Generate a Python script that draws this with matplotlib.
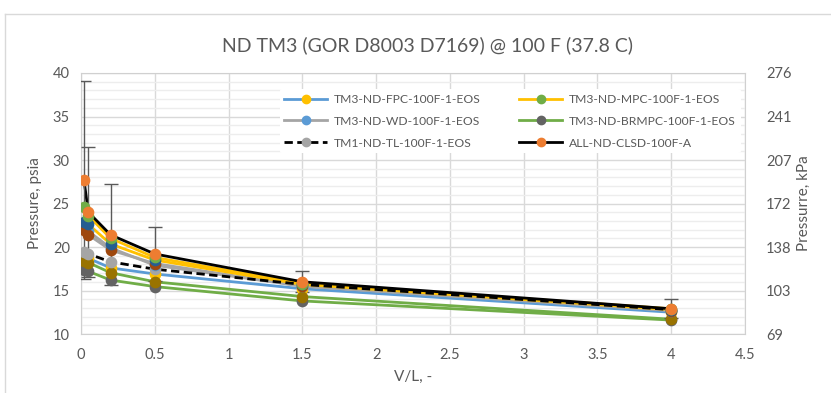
import matplotlib
matplotlib.use("Agg")
import matplotlib.pyplot as plt
from matplotlib.lines import Line2D

plt.rcParams["font.family"] = ["Lato", "DejaVu Sans"]

# Vapour/liquid ratio
vl = [0.02, 0.05, 0.2, 0.5, 1.5, 4.0]

# Pressures, psia
clsd = [27.7, 24.0, 21.4, 19.2, 16.0, 12.9]
clsd_err = [11.4, 7.5, 5.8, 3.1, 1.2, 1.1]
mpc = [24.6, 23.6, 21.0, 18.8, 15.8, 12.9]
mpc_2 = [22.9, 22.6, 20.35, 18.5, 15.7, 12.8]
wd = [22.2, 21.8, 19.9, 17.9, 15.5, 12.7]
wd_2 = [21.9, 21.4, 19.65, 18.1, 15.5, 12.7]
tl = [19.4, 19.2, 18.3, 17.45, 15.7, 12.8]
fpc = [18.9, 18.7, 17.6, 16.9, 15.2, 12.5]
brmpc_2 = [18.4, 18.2, 17.05, 16.0, 14.3, 11.7]
brmpc = [17.4, 17.2, 16.2, 15.45, 13.8, 11.6]

labels = {
    "fpc": "TM3-ND-FPC-100F-1-EOS",
    "mpc": "TM3-ND-MPC-100F-1-EOS",
    "wd": "TM3-ND-WD-100F-1-EOS",
    "brmpc": "TM3-ND-BRMPC-100F-1-EOS",
    "tl": "TM1-ND-TL-100F-1-EOS",
    "clsd": "ALL-ND-CLSD-100F-A",
}

PSI_TO_KPA = 6.894757

BLUE = "#5B9BD5"
ORANGE = "#ED7D31"
GRAY = "#A5A5A5"
GOLD = "#FFC000"
GREEN = "#70AD47"
DKBLUE = "#255E91"
BROWN = "#9E480E"
DKGRAY = "#636363"
OLIVE = "#997300"
TXT = "#595959"

# (values, line colour, line style, marker colour, legend key)
series = [
    (brmpc, GREEN, "-", DKGRAY, "brmpc"),
    (brmpc_2, GREEN, "-", OLIVE, None),
    (fpc, BLUE, "-", GOLD, "fpc"),
    (wd, GRAY, "-", BLUE, "wd"),
    (wd_2, GRAY, "-", BROWN, None),
    (mpc_2, GOLD, "-", DKBLUE, None),
    (mpc, GOLD, "-", GREEN, "mpc"),
    (tl, "black", (0, (3, 1.6)), GRAY, "tl"),
    (clsd, "black", "-", ORANGE, "clsd"),
]
marker_order = [2, 0, 1, 7, 3, 4, 5, 6, 8]

fig = plt.figure(figsize=(8.31, 3.93), dpi=100)
ax = fig.add_axes([81 / 831, 1 - 334 / 393, 664 / 831, 261 / 393])

# chart-area border
fig.add_artist(Line2D([5 / 831, 1.0], [1 - 14 / 393] * 2, color="#D9D9D9", lw=1,
                      transform=fig.transFigure))
fig.add_artist(Line2D([5 / 831] * 2, [0, 1 - 14 / 393], color="#D9D9D9", lw=1,
                      transform=fig.transFigure))

handles = {}
for vals, lc, ls, mc, key in series:
    ax.plot(vl, vals, color=lc, ls=ls, lw=2.0, zorder=3)
    if key:
        handles[key] = Line2D([], [], color=lc, ls=ls, lw=2.0, marker="o",
                              markersize=6, markerfacecolor=mc, markeredgecolor=mc)

ax.errorbar(vl, clsd, yerr=clsd_err, fmt="none", ecolor=TXT, elinewidth=1.0,
            capsize=5, capthick=1.0, zorder=4)

for i in marker_order:
    vals, lc, ls, mc, key = series[i]
    ax.plot(vl, vals, ls="none", marker="o", markersize=7.4, markerfacecolor=mc,
            markeredgecolor=mc, zorder=5)

ax.set_xlim(0, 4.5)
ax.set_ylim(10, 40)
ax.set_xticks([0, 0.5, 1, 1.5, 2, 2.5, 3, 3.5, 4, 4.5])
ax.set_xticklabels(["0", "0.5", "1", "1.5", "2", "2.5", "3", "3.5", "4", "4.5"])
ax.set_yticks(range(10, 41, 5))
ax.set_yticks(range(10, 41, 1), minor=True)
ax.grid(True, which="major", color="#D9D9D9", lw=1.0, zorder=0)
ax.grid(True, which="minor", axis="y", color="#EDEDED", lw=1.0, zorder=0)
ax.set_axisbelow(True)
for sp in ax.spines.values():
    sp.set_color("#D0D0D0")
ax.tick_params(which="both", length=0, colors=TXT, labelsize=10.5)
ax.tick_params(axis="x", pad=10)
ax.tick_params(axis="y", pad=8)

ax2 = ax.twinx()
ax2.set_ylim(10 * PSI_TO_KPA, 40 * PSI_TO_KPA)
kpa_ticks = [p * PSI_TO_KPA for p in range(10, 41, 5)]
ax2.set_yticks(kpa_ticks)
ax2.set_yticklabels([f"{t:.0f}" for t in kpa_ticks])
ax2.tick_params(length=0, colors=TXT, labelsize=10.5, pad=15)
for sp in ax2.spines.values():
    sp.set_visible(False)

ax.set_xlabel("V/L, -", color=TXT, fontsize=11, labelpad=6)
ax.set_ylabel("Pressure, psia", color=TXT, fontsize=11, labelpad=8)
ax2.set_ylabel("Pressurre, kPa", color=TXT, fontsize=11, labelpad=4)

fig.text(428 / 831, 1 - 45 / 393, "ND TM3 (GOR D8003 D7169) @ 100 F (37.8 C)",
         ha="center", va="center", color=TXT, fontsize=14)

order = ["fpc", "wd", "tl", "mpc", "brmpc", "clsd"]
leg = ax.legend([handles[k] for k in order], [labels[k] for k in order], ncol=2,
                loc="upper left", bbox_to_anchor=(0.29, 0.962), fontsize=8.7,
                frameon=True, facecolor="white", edgecolor="none", framealpha=1,
                handlelength=3.5, handletextpad=0.6, columnspacing=3.2,
                labelspacing=0.9, borderpad=0.4)
for t in leg.get_texts():
    t.set_color(TXT)
leg.set_zorder(6)

fig.savefig("out.png", dpi=100)
